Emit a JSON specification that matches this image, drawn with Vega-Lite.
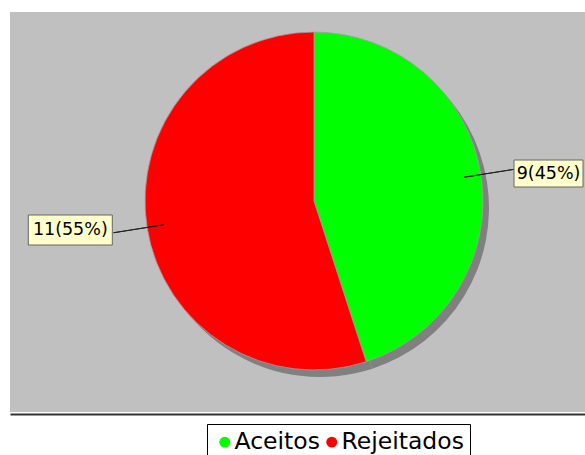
{
  "$schema": "https://vega.github.io/schema/vega-lite/v6.json",
  "width": 575,
  "height": 400,
  "autosize": {"type": "none"},
  "padding": {"left": 10, "top": 12, "right": 0, "bottom": 43},
  "background": "white",
  "config": {
    "view": {"fill": "#C0C0C0", "stroke": null},
    "font": "DejaVu Sans"
  },
  "data": {
    "values": [
      {"category": "Aceitos", "value": 9, "label": "9(45%)"},
      {"category": "Rejeitados", "value": 11, "label": "11(55%)"}
    ]
  },
  "layer": [
    {
      "mark": {"type": "arc", "radius": 169, "fill": "#808080", "stroke": null, "xOffset": 22.5, "yOffset": -4},
      "encoding": {
        "theta": {"field": "value", "type": "quantitative", "stack": true},
        "detail": {"field": "category", "type": "nominal"}
      }
    },
    {
      "mark": {"type": "arc", "radius": 169, "stroke": "#A0A0A0", "strokeWidth": 0.8, "xOffset": 16.5, "yOffset": -11},
      "encoding": {
        "theta": {"field": "value", "type": "quantitative", "stack": true},
        "color": {
          "field": "category",
          "type": "nominal",
          "scale": {"domain": ["Aceitos", "Rejeitados"], "range": ["#00FF00", "#FF0000"]},
          "legend": {
            "orient": "none",
            "legendX": 197,
            "legendY": 412,
            "direction": "horizontal",
            "title": null,
            "strokeColor": "#000000",
            "fillColor": "white",
            "padding": 6,
            "symbolType": "circle",
            "symbolSize": 120,
            "symbolStrokeWidth": 0,
            "labelFont": "DejaVu Sans",
            "labelFontSize": 23.5,
            "labelColor": "#000000",
            "labelOffset": -2,
            "columnPadding": -4,
            "labelLimit": 300
          }
        }
      }
    },
    {
      "transform": [
        {"stack": "value", "groupby": [], "sort": [{"field": "category"}], "as": ["v0", "v1"]},
        {"fold": ["v0", "v1"], "as": ["k", "v"]},
        {"aggregate": [{"op": "mean", "field": "v", "as": "mid"}], "groupby": ["category"]}
      ],
      "mark": {"type": "arc", "radius": 203, "radius2": 152, "fillOpacity": 0, "stroke": "#222222", "strokeWidth": 1, "xOffset": 16.5, "yOffset": -11},
      "encoding": {
        "theta": {"field": "mid", "type": "quantitative", "stack": null},
        "theta2": {"field": "mid"}
      }
    },
    {
      "mark": {"type": "point", "filled": true, "fill": "#FFFFCC", "stroke": "#666666", "strokeWidth": 1, "opacity": 1, "size": 4},
      "encoding": {
        "x": {"field": "category", "type": "nominal", "scale": {"type": "point", "domain": ["Rejeitados", "Aceitos"], "padding": 0.1012, "align": 0.623}, "axis": {"labels": false, "ticks": false, "title": null, "grid": false, "domainColor": "#333333", "domainWidth": 2, "offset": 2}},
        "y": {"field": "value", "type": "quantitative", "scale": {"domain": [3.283, 17.442], "reverse": true, "zero": false, "nice": false}, "axis": null},
        "shape": {"field": "label", "type": "nominal", "scale": {"domain": ["9(45%)", "11(55%)"], "range": ["M-34.5,-13.5H34.5V13.5H-34.5Z", "M-42,-15H42V15H-42Z"]}, "legend": null}
      }
    },
    {
      "mark": {"type": "text", "font": "DejaVu Sans", "fontSize": 17.5, "color": "#000000", "align": "center", "baseline": "middle"},
      "encoding": {
        "x": {"field": "category", "type": "nominal", "scale": {"type": "point", "domain": ["Rejeitados", "Aceitos"], "padding": 0.1012, "align": 0.623}, "axis": {"labels": false, "ticks": false, "title": null, "grid": false, "domainColor": "#333333", "domainWidth": 2, "offset": 2}},
        "y": {"field": "value", "type": "quantitative", "scale": {"domain": [3.283, 17.442], "reverse": true, "zero": false, "nice": false}, "axis": null},
        "text": {"field": "label", "type": "nominal"}
      }
    }
  ]
}
